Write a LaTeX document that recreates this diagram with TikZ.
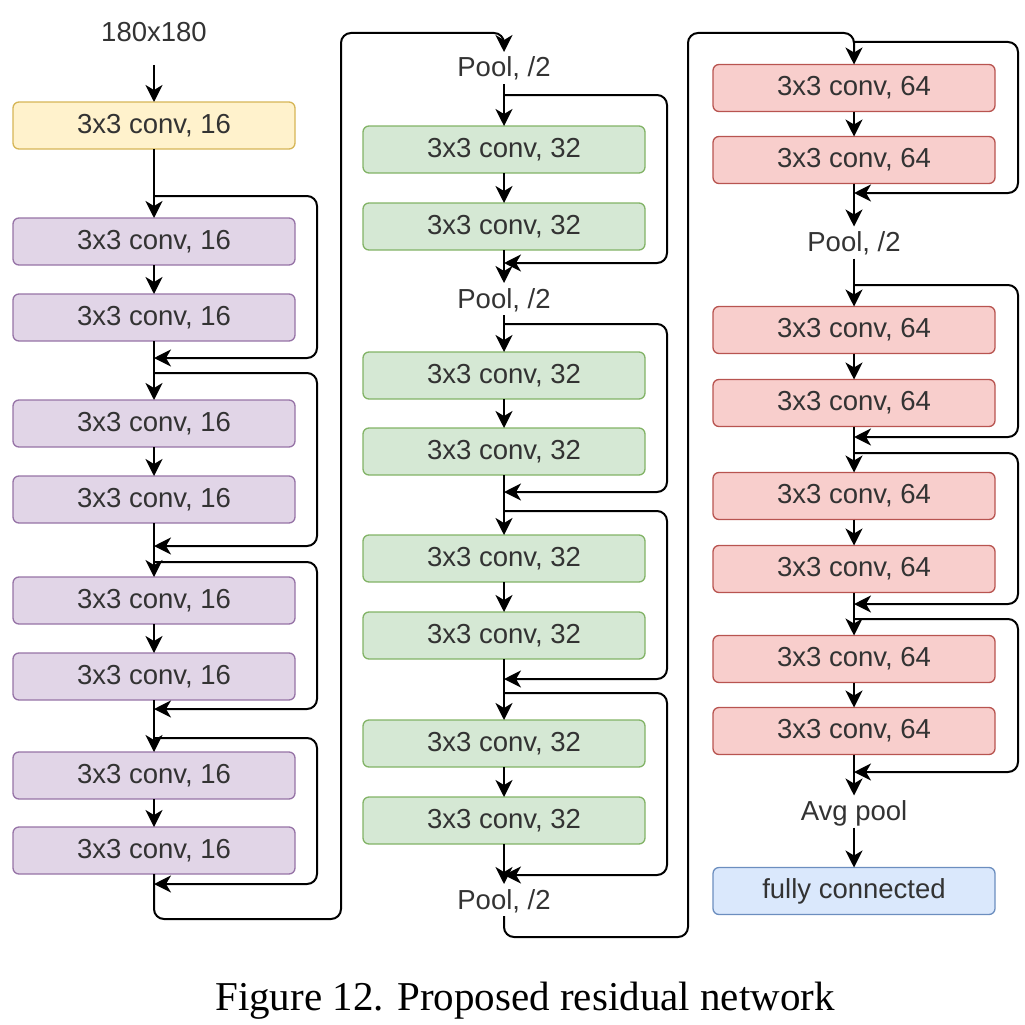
\documentclass[tikz,border=0pt]{standalone}
\usepackage{fontspec}
\setmainfont{Liberation Serif}
\setsansfont{Liberation Sans}
\usetikzlibrary{arrows.meta,positioning}

\definecolor{yelfill}{HTML}{FFF2CC}
\definecolor{yelline}{HTML}{D6B656}
\definecolor{purfill}{HTML}{E1D5E7}
\definecolor{purline}{HTML}{9673A6}
\definecolor{grnfill}{HTML}{D5E8D4}
\definecolor{grnline}{HTML}{82B366}
\definecolor{redfill}{HTML}{F8CECC}
\definecolor{redline}{HTML}{B85450}
\definecolor{blufill}{HTML}{DAE8FC}
\definecolor{bluline}{HTML}{6C8EBF}

\begin{document}
\begin{tikzpicture}[
  x=1pt, y=-1pt,
  >={Stealth[length=17pt,width=17pt,inset=5pt]},
  every node/.style={font=\sffamily\fontsize{27.5}{30}\selectfont, text=black!80, outer sep=0pt},
  box/.style={draw, rounded corners=6pt, line width=1.3pt, minimum width=282pt, minimum height=47pt, inner sep=0pt},
  conv/.style={box, fill=purfill, draw=purline},
  stem/.style={box, fill=yelfill, draw=yelline},
  convg/.style={box, fill=grnfill, draw=grnline},
  convr/.style={box, fill=redfill, draw=redline},
  fcbox/.style={box, fill=blufill, draw=bluline},
  lbl/.style={inner sep=0pt, text height=20pt, text depth=2pt, minimum height=32pt},
  every path/.style={line width=2pt},
  skip/.style={->, rounded corners=10pt},
  ]
  \useasboundingbox (0,0) rectangle (1025,1025);

  % column 1
  \node[lbl] (inp) at (154,33) {180x180};
  \node[stem, below = 53pt of inp] (y0) {3x3 conv, 16};
  \node[conv, below = 69pt of y0] (p1) {3x3 conv, 16};
  \node[conv, below = 29pt of p1] (p2) {3x3 conv, 16};
  \node[conv, below = 59pt of p2] (p3) {3x3 conv, 16};
  \node[conv, below = 29pt of p3] (p4) {3x3 conv, 16};
  \node[conv, below = 54pt of p4] (p5) {3x3 conv, 16};
  \node[conv, below = 29pt of p5] (p6) {3x3 conv, 16};
  \node[conv, below = 52pt of p6] (p7) {3x3 conv, 16};
  \node[conv, below = 28pt of p7] (p8) {3x3 conv, 16};

  % column 2
  \node[lbl] (q0) at (504,68) {Pool, /2};
  \node[convg, below = 42pt of q0] (g1) {3x3 conv, 32};
  \node[convg, below = 30pt of g1] (g2) {3x3 conv, 32};
  \node[lbl, below = 33pt of g2] (q1) {Pool, /2};
  \node[convg, below = 37pt of q1] (g3) {3x3 conv, 32};
  \node[convg, below = 29pt of g3] (g4) {3x3 conv, 32};
  \node[convg, below = 60pt of g4] (g5) {3x3 conv, 32};
  \node[convg, below = 30pt of g5] (g6) {3x3 conv, 32};
  \node[convg, below = 61pt of g6] (g7) {3x3 conv, 32};
  \node[convg, below = 30pt of g7] (g8) {3x3 conv, 32};
  \node[lbl, below = 40pt of g8] (q2) {Pool, /2};

  % column 3
  \node[convr] (c1) at (854,88) {3x3 conv, 64};
  \node[convr, below = 25pt of c1] (c2) {3x3 conv, 64};
  \node[lbl, below = 43pt of c2] (q3) {Pool, /2};
  \node[convr, below = 48pt of q3] (c3) {3x3 conv, 64};
  \node[convr, below = 26pt of c3] (c4) {3x3 conv, 64};
  \node[convr, below = 46pt of c4] (c5) {3x3 conv, 64};
  \node[convr, below = 26pt of c5] (c6) {3x3 conv, 64};
  \node[convr, below = 43pt of c6] (c7) {3x3 conv, 64};
  \node[convr, below = 25pt of c7] (c8) {3x3 conv, 64};
  \node[lbl, below = 41pt of c8] (q4) {Avg pool};
  \node[fcbox, below = 40pt of q4] (fc) {fully connected};

  \node[font=\rmfamily\fontsize{41}{44}\selectfont, text=black, anchor=base] (cap) at (525,1010) {Figure 12. Proposed residual network};

  % split and merge points
  \coordinate (a1) at (154,196); \coordinate (z1) at (154,358);
  \coordinate (a2) at (154,373); \coordinate (z2) at (154,546);
  \coordinate (a3) at (154,562); \coordinate (z3) at (154,709);
  \coordinate (a4) at (154,738); \coordinate (z4) at (154,884);
  \coordinate (b1) at (504,95);  \coordinate (w1) at (504,263);
  \coordinate (b2) at (504,324); \coordinate (w2) at (504,492);
  \coordinate (b3) at (504,511); \coordinate (w3) at (504,679);
  \coordinate (b4) at (504,693); \coordinate (w4) at (504,875);
  \coordinate (d1) at (854,42);  \coordinate (v1) at (854,193);
  \coordinate (d2) at (854,285); \coordinate (v2) at (854,437);
  \coordinate (d3) at (854,453); \coordinate (v3) at (854,604);
  \coordinate (d4) at (854,619); \coordinate (v4) at (854,772);
  \coordinate (k1) at (341,919); \coordinate (k2) at (341,33);
  \coordinate (k3) at (688,937); \coordinate (k4) at (688,33);

  \draw [->, shorten <=16pt] (inp) -- (y0);
  \draw [->] (y0) -- (p1);
  \draw [->] (p1) -- (p2);
  \draw [->] (p2) -- (p3);
  \draw [->] (p3) -- (p4);
  \draw [->] (p4) -- (p5);
  \draw [->] (p5) -- (p6);
  \draw [->] (p6) -- (p7);
  \draw [->] (p7) -- (p8);
  \draw [->, rounded corners=10pt] (p8.south) -- (p8.south |- k1) -- (k1) -- (k2) -- (k2 -| q0) -- (q0.north);

  \draw [->] (q0) -- (g1);
  \draw [->] (g1) -- (g2);
  \draw [->] (g2) -- (q1);
  \draw [->] (q1) -- (g3);
  \draw [->] (g3) -- (g4);
  \draw [->] (g4) -- (g5);
  \draw [->] (g5) -- (g6);
  \draw [->] (g6) -- (g7);
  \draw [->] (g7) -- (g8);
  \draw [->] (g8) -- (q2);
  \draw [->, rounded corners=10pt] (q2.south) -- (q2.south |- k3) -- (k3) -- (k4) -- (k4 -| c1) -- (c1.north);

  \draw [->] (c1) -- (c2);
  \draw [->] (c2) -- (q3);
  \draw [->] (q3) -- (c3);
  \draw [->] (c3) -- (c4);
  \draw [->] (c4) -- (c5);
  \draw [->] (c5) -- (c6);
  \draw [->] (c6) -- (c7);
  \draw [->] (c7) -- (c8);
  \draw [->] (c8) -- (q4);
  \draw [->] (q4) -- (fc);

  % shortcuts
  \draw [skip] (a1) -- ++(163,0) |- (z1);
  \draw [skip] (a2) -- ++(163,0) |- (z2);
  \draw [skip] (a3) -- ++(163,0) |- (z3);
  \draw [skip] (a4) -- ++(163,0) |- (z4);
  \draw [skip] (b1) -- ++(163,0) |- (w1);
  \draw [skip] (b2) -- ++(163,0) |- (w2);
  \draw [skip] (b3) -- ++(163,0) |- (w3);
  \draw [skip] (b4) -- ++(163,0) |- (w4);
  \draw [skip] (d1) -- ++(164,0) |- (v1);
  \draw [skip] (d2) -- ++(164,0) |- (v2);
  \draw [skip] (d3) -- ++(164,0) |- (v3);
  \draw [skip] (d4) -- ++(164,0) |- (v4);

\end{tikzpicture}
\end{document}
